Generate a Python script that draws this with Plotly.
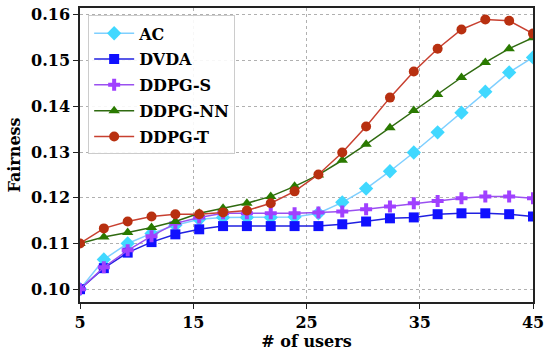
import numpy as np
import plotly.graph_objects as go

users = np.linspace(5, 45, 20)

ac = [0.1000, 0.1065, 0.1100, 0.1122, 0.1140, 0.1153, 0.1157, 0.1157, 0.1157, 0.1158,
      0.1166, 0.1190, 0.1220, 0.1258, 0.1299, 0.1343, 0.1386, 0.1432, 0.1474, 0.1507]
dvda = [0.1000, 0.1046, 0.1080, 0.1103, 0.1120, 0.1131, 0.1138, 0.1138, 0.1138, 0.1138,
        0.1138, 0.1142, 0.1148, 0.1155, 0.1157, 0.1164, 0.1166, 0.1166, 0.1164, 0.1159]
ddpg_s = [0.1000, 0.1048, 0.1085, 0.1116, 0.1144, 0.1157, 0.1166, 0.1166, 0.1166, 0.1166,
          0.1168, 0.1170, 0.1175, 0.1181, 0.1188, 0.1193, 0.1199, 0.1203, 0.1203, 0.1199]
ddpg_nn = [0.1100, 0.1114, 0.1124, 0.1135, 0.1148, 0.1166, 0.1177, 0.1188, 0.1203, 0.1225,
           0.1250, 0.1282, 0.1317, 0.1353, 0.1391, 0.1426, 0.1463, 0.1496, 0.1526, 0.1550]
ddpg_t = [0.1100, 0.1133, 0.1148, 0.1159, 0.1164, 0.1164, 0.1168, 0.1172, 0.1188, 0.1214,
          0.1251, 0.1299, 0.1356, 0.1419, 0.1476, 0.1526, 0.1568, 0.1590, 0.1587, 0.1559]

series = [
    ("AC", ac, "#7fcfff", "#40d8ff", "diamond", 11),
    ("DVDA", dvda, "#2020e0", "#1010ff", "square", 10),
    ("DDPG-S", ddpg_s, "#9a50f0", "#a040ff", "cross", 10),
    ("DDPG-NN", ddpg_nn, "#2f6a10", "#2a7a00", "triangle-up", 10),
    ("DDPG-T", ddpg_t, "#c84030", "#b83010", "circle", 10),
]

font_family = "DejaVu Serif"

fig = go.Figure()
for name, vals, lc, mc, sym, sz in series:
    fig.add_trace(go.Scatter(
        x=users, y=vals, name=name, mode="lines+markers", legendgroup=name,
        line=dict(color=lc, width=1.5),
        marker=dict(symbol=sym, size=sz, color=mc, line=dict(width=0)),
    ))

fig.update_layout(
    width=550, height=355,
    margin=dict(l=80, r=13, t=6, b=53),
    paper_bgcolor="white", plot_bgcolor="white",
    font=dict(family=font_family, size=16, color="black", weight="bold"),
    showlegend=True,
    legend=dict(
        x=0.018, y=0.975, xanchor="left", yanchor="top",
        bgcolor="rgba(255,255,255,0.9)", bordercolor="#cccccc", borderwidth=1,
        font=dict(family=font_family, size=16, color="black", weight="bold"),
        tracegroupgap=2, itemwidth=40,
    ),
)
fig.update_xaxes(
    range=[5, 45], tickvals=[5, 15, 25, 35, 45], ticktext=["5", "15", "25", "35", "45"],
    showgrid=True, gridcolor="#b0b0b0", griddash="dot", gridwidth=1,
    showline=True, linecolor="#222222", linewidth=1.5, mirror=True,
    ticks="outside", ticklen=5, tickcolor="#222222",
    zeroline=False,
    title=dict(text="# of users", font=dict(family=font_family, size=16, weight="bold"), standoff=4),
)
fig.update_yaxes(
    range=[0.0972, 0.1615], tickvals=[0.10, 0.11, 0.12, 0.13, 0.14, 0.15, 0.16],
    ticktext=["0.10", "0.11", "0.12", "0.13", "0.14", "0.15", "0.16"],
    showgrid=True, gridcolor="#b0b0b0", griddash="dot", gridwidth=1,
    showline=True, linecolor="#222222", linewidth=1.5, mirror=True,
    ticks="outside", ticklen=5, tickcolor="#222222",
    zeroline=False,
    title=dict(text="Fairness", font=dict(family=font_family, size=16, weight="bold"), standoff=6),
)

fig.write_html("out.html", post_script="document.body.style.margin='0';",
               config={"displayModeBar": False})
